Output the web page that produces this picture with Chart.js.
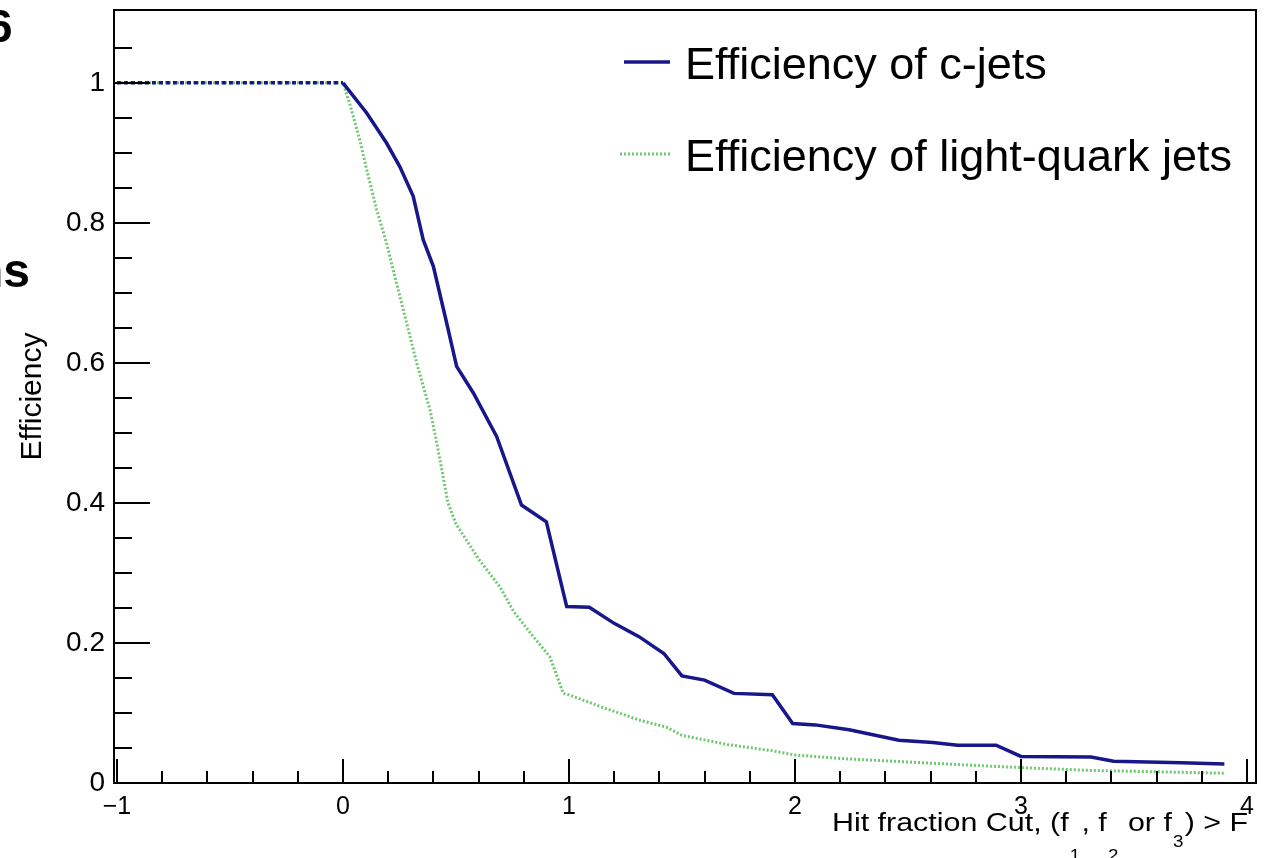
<!DOCTYPE html>
<html>
<head>
<meta charset="utf-8">
<script src="https://cdn.jsdelivr.net/npm/chart.js@4.4.1/dist/chart.umd.min.js"></script>
<style>
    html, body { margin: 0; padding: 0; background: #fff; }
    #wrap { position: relative; width: 1269px; height: 858px; overflow: hidden; }
    #wrap canvas { position: absolute; left: 0; top: 0; }
    .cut {
        position: absolute;
        font-family: 'Liberation Sans', Arial, sans-serif;
        font-weight: bold;
        color: #000;
        white-space: nowrap;
        line-height: 1;
    }
</style>
</head>
<body>
<div id="wrap">
    <canvas id="chart" width="1269" height="858"></canvas>
    <div class="cut" style="left:-13px; top:3px; font-size:46px;">6</div>
    <div class="cut" style="left:-26px; top:247px; font-size:48px;">ns</div>
</div>
<script>
'use strict';

// axis ticks
const xTickValues = [-1, 0, 1, 2, 3, 4];
const xTickLabels = ['\u22121', '0', '1', '2', '3', '4'];
const yTickValues = [0, 0.2, 0.4, 0.6, 0.8, 1];
const yTickLabels = ['0', '0.2', '0.4', '0.6', '0.8', '1'];

const seriesLabels = ['Efficiency of c-jets', 'Efficiency of light-quark jets'];
const xTitle = ['Hit fraction Cut, (f', '1', ', f', '2', ' or f', '3', ') > F'];
const yTitle = 'Efficiency';

// c-jets efficiency vs cut F
const cjetCut = [-1, 0, 0.105, 0.193, 0.252, 0.311, 0.355, 0.4, 0.459, 0.503,
    0.577, 0.68, 0.79, 0.9, 0.99, 1.09, 1.2, 1.31, 1.42, 1.5,
    1.6, 1.73, 1.9, 1.99, 2.09, 2.24, 2.46, 2.61, 2.72, 2.89,
    3.0, 3.31, 3.41, 3.71, 3.9];
const cjetEff = [1, 1, 0.957, 0.914, 0.880, 0.838, 0.776, 0.738, 0.657, 0.595,
    0.557, 0.495, 0.397, 0.373, 0.252, 0.251, 0.228, 0.209, 0.185, 0.153,
    0.147, 0.128, 0.126, 0.085, 0.083, 0.076, 0.061, 0.058, 0.054, 0.054,
    0.038, 0.037, 0.031, 0.029, 0.027];

// light-quark jets efficiency vs cut F
const lightCut = [-1, 0, 0.03, 0.075, 0.105, 0.149, 0.193, 0.237, 0.282, 0.326,
    0.385, 0.415, 0.465, 0.5, 0.6, 0.695, 0.755, 0.83, 0.916, 0.975,
    1.0, 1.14, 1.31, 1.43, 1.5, 1.7, 1.9, 2.0, 2.2, 2.5,
    2.8, 3.0, 3.3, 3.6, 3.9];
const lightEff = [1, 1, 0.97, 0.918, 0.876, 0.819, 0.771, 0.714, 0.657, 0.60,
    0.533, 0.486, 0.40, 0.37, 0.32, 0.28, 0.245, 0.214, 0.18, 0.128,
    0.126, 0.109, 0.09, 0.08, 0.068, 0.055, 0.046, 0.04, 0.035, 0.03,
    0.025, 0.022, 0.018, 0.016, 0.014];

const FONT = "'Liberation Sans', Arial, Helvetica, sans-serif";

function points(xs, ys) {
    return xs.map((x, i) => ({x: x, y: ys[i]}));
}

function fixTicks(values) {
    return function (scale) {
        scale.ticks = values.map(v => ({value: v}));
    };
}

// ROOT style frame: inner ticks, legend box, latex-ish x title
const rootFrame = {
    id: 'rootFrame',
    afterDraw(chart) {
        const ctx = chart.ctx,
            area = chart.chartArea,
            xs = chart.scales.x,
            ys = chart.scales.y;
        ctx.save();
        ctx.strokeStyle = '#000';
        ctx.lineWidth = 2;
        ctx.strokeRect(area.left, area.top, area.right - area.left, area.bottom - area.top);

        ctx.beginPath();
        for (let i = 0; i <= 25; i++) {
            const px = Math.round(xs.getPixelForValue(-1 + i * 0.2));
            const len = (i % 5 === 0) ? 24 : 12;
            ctx.moveTo(px, area.bottom);
            ctx.lineTo(px, area.bottom - len);
        }
        for (let i = 0; i <= 21; i++) {
            const py = Math.round(ys.getPixelForValue(i * 0.05));
            const len = (i % 4 === 0) ? 36 : 18;
            ctx.moveTo(area.left, py);
            ctx.lineTo(area.left + len, py);
        }
        ctx.stroke();

        // legend
        const rows = [
            {y: 64, x0: 624, x1: 670},
            {y: 156, x0: 620, x1: 670}
        ];
        chart.data.datasets.forEach((ds, i) => {
            const r = rows[i];
            ctx.save();
            ctx.strokeStyle = ds.borderColor;
            ctx.lineWidth = ds.borderWidth;
            ctx.setLineDash(ds.borderDash || []);
            ctx.beginPath();
            ctx.moveTo(r.x0, r.y - 2);
            ctx.lineTo(r.x1, r.y - 2);
            ctx.stroke();
            ctx.restore();
            ctx.fillStyle = '#000';
            ctx.font = '45px ' + FONT;
            ctx.textBaseline = 'middle';
            ctx.textAlign = 'left';
            ctx.fillText(ds.label, 685, r.y + 3);
        });

        // x title with subscripts, right aligned at the axis end
        const mainFont = '26px ' + FONT, subFont = '16px ' + FONT;
        const subDrop = {1: 30, 3: 30, 5: 16};
        let total = 0;
        const widths = xTitle.map((t, i) => {
            ctx.font = (i % 2) ? subFont : mainFont;
            const w = ctx.measureText(t).width + ((i % 2) ? 2 : 0);
            total += w;
            return w;
        });
        const right = 1248, left = 832, base = 831;
        const stretch = (right - left) / total;
        ctx.translate(left, 0);
        ctx.scale(stretch, 1);
        ctx.textBaseline = 'alphabetic';
        ctx.fillStyle = '#000';
        let cx = 0;
        xTitle.forEach((t, i) => {
            ctx.font = (i % 2) ? subFont : mainFont;
            ctx.fillText(t, cx + ((i % 2) ? 1 : 0), base + (subDrop[i] || 0));
            cx += widths[i];
        });
        ctx.restore();
    }
};

const chart = new Chart(document.getElementById('chart'), {
    type: 'line',
    data: {
        datasets: [{
            label: seriesLabels[0],
            data: points(cjetCut, cjetEff),
            borderColor: '#17178a',
            borderWidth: 3.5,
            pointRadius: 0,
            tension: 0,
            segment: {
                borderDash: ctx => (ctx.p1.parsed.x <= 0 ? [4, 3] : undefined)
            }
        }, {
            label: seriesLabels[1],
            data: points(lightCut, lightEff),
            borderColor: 'rgb(110,200,110)',
            borderWidth: 3,
            borderDash: [2, 2],
            pointRadius: 0,
            tension: 0
        }]
    },
    options: {
        responsive: false,
        animation: false,
        devicePixelRatio: 1,
        layout: {padding: {top: 10, right: 13, left: 0, bottom: 0}},
        plugins: {
            legend: {display: false},
            tooltip: {enabled: false}
        },
        scales: {
            x: {
                type: 'linear',
                min: -1.013,
                max: 4.04,
                afterBuildTicks: fixTicks(xTickValues),
                afterFit: s => {
                    s.height = 75;
                    s.paddingLeft = 0;
                    s.paddingRight = 0;
                },
                grid: {display: false, drawTicks: false},
                border: {display: false},
                ticks: {
                    autoSkip: false,
                    maxRotation: 0,
                    padding: 9,
                    color: '#000',
                    font: {family: FONT, size: 25},
                    callback: (v) => xTickLabels[xTickValues.indexOf(v)]
                }
            },
            y: {
                type: 'linear',
                min: 0,
                max: 1.104,
                afterBuildTicks: fixTicks(yTickValues),
                afterFit: s => {
                    s.width = 114;
                    s.paddingTop = 0;
                    s.paddingBottom = 0;
                },
                grid: {display: false, drawTicks: false},
                border: {display: false},
                title: {
                    display: true,
                    text: yTitle,
                    color: '#000',
                    font: {family: FONT, size: 30},
                    padding: {top: 15, bottom: 0}
                },
                ticks: {
                    autoSkip: false,
                    padding: 9,
                    color: '#000',
                    font: {family: FONT, size: 28},
                    callback: (v) => yTickLabels[yTickValues.indexOf(v)]
                }
            }
        }
    },
    plugins: [rootFrame]
});
</script>
</body>
</html>
